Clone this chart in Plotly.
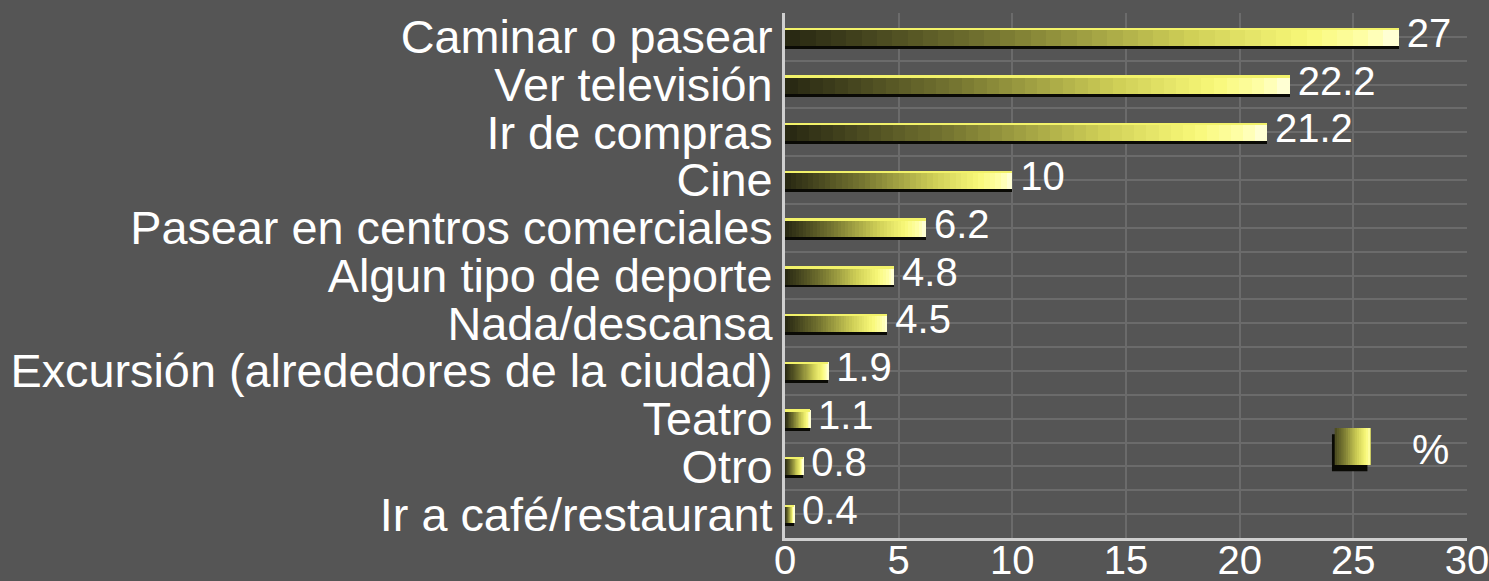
import plotly.graph_objects as go

categories = ["Caminar o pasear", "Ver televisión", "Ir de compras", "Cine",
              "Pasear en centros comerciales", "Algun tipo de deporte",
              "Nada/descansa", "Excursión (alrededores de la ciudad)",
              "Teatro", "Otro", "Ir a café/restaurant"]
values = [27, 22.2, 21.2, 10, 6.2, 4.8, 4.5, 1.9, 1.1, 0.8, 0.4]
value_labels = ["27", "22.2", "21.2", "10", "6.2", "4.8", "4.5", "1.9", "1.1", "0.8", "0.4"]
series_name = "%"
x_ticks = [0, 5, 10, 15, 20, 25, 30]

BG = "#555555"
GRID = "#6b6b6b"
FONT = "Liberation Sans, Arial, sans-serif"

ypos = list(range(len(categories)))

stops = [(0.0, (38, 38, 18)), (0.35, (120, 120, 50)), (0.65, (205, 205, 85)),
         (0.85, (248, 248, 120)), (0.95, (255, 255, 170)), (1.0, (255, 255, 225))]


def grad(t):
    for (t0, c0), (t1, c1) in zip(stops[:-1], stops[1:]):
        if t0 <= t <= t1:
            f = (t - t0) / (t1 - t0) if t1 > t0 else 0
            return "rgb(%d,%d,%d)" % tuple(round(a + (b - a) * f) for a, b in zip(c0, c1))
    return "rgb(%d,%d,%d)" % stops[-1][1]


fig = go.Figure()

BW = 0.38
# shadow
fig.add_trace(go.Bar(orientation="h", y=[p + 0.06 for p in ypos], x=values,
                     width=BW, marker=dict(color="#0a0a05", line=dict(width=0)),
                     showlegend=False, hoverinfo="skip"))
N = 40
for k in range(N):
    fig.add_trace(go.Bar(orientation="h", y=ypos,
                         x=[v * (N - k) / N for v in values],
                         base=[v * k / N for v in values],
                         width=BW, marker=dict(color=grad((k + 0.5) / N), line=dict(width=0)),
                         showlegend=False, hoverinfo="skip"))
# top highlight
fig.add_trace(go.Bar(orientation="h", y=[p - BW / 2 + 0.02 for p in ypos], x=values,
                     width=0.05, marker=dict(color="#f2f26a", line=dict(width=0)),
                     showlegend=False, hoverinfo="skip"))
# value labels
fig.add_trace(go.Scatter(x=values, y=ypos, mode="text",
                         text=["\u2009" + t for t in value_labels],
                         textposition="middle right",
                         textfont=dict(family=FONT, size=40, color="white"),
                         showlegend=False, hoverinfo="skip", cliponaxis=False))

# legend drawn manually
lx0, lx1, ly0, ly1 = 0.806, 0.858, 0.139, 0.2095
shapes = [dict(type="rect", xref="paper", yref="paper", x0=lx0 - 0.004, x1=lx1 - 0.004,
               y0=ly0 - 0.012, y1=ly1 - 0.012, fillcolor="#0a0a05", line=dict(width=0), layer="above")]
M = 16
for k in range(M):
    shapes.append(dict(type="rect", xref="paper", yref="paper",
                       x0=lx0 + (lx1 - lx0) * k / M, x1=lx1,
                       y0=ly0, y1=ly1, fillcolor=grad(0.15 + 0.8 * (k + 0.5) / M),
                       line=dict(width=0), layer="above"))

fig.update_layout(
    width=1489, height=581,
    paper_bgcolor=BG, plot_bgcolor=BG,
    margin=dict(l=785, r=22, t=13, b=43),
    barmode="overlay", bargap=0,
    showlegend=False,
    shapes=shapes,
    annotations=[dict(text=series_name, xref="paper", yref="paper", x=0.946, y=0.168,
                      xanchor="center", yanchor="middle",
                      showarrow=False, font=dict(family=FONT, size=42, color="white"))],
    font=dict(family=FONT, color="white"),
)
fig.update_xaxes(range=[0, 30], tickvals=x_ticks, showgrid=True, gridcolor=GRID, gridwidth=2,
                 showline=True, linecolor="#cfcfcf", linewidth=3, zeroline=False,
                 ticks="", ticklabelstandoff=-15, ticklabeloverflow="allow",
                 tickfont=dict(family=FONT, size=40, color="white"), automargin=False)
fig.update_yaxes(range=[10.5, -0.5], tickvals=ypos, ticktext=categories,
                 showgrid=True, gridcolor=GRID, gridwidth=2,
                 minor=dict(tickvals=[p - 0.5 for p in ypos] + [10.5], showgrid=True,
                            gridcolor=GRID, gridwidth=2, ticks=""),
                 showline=True, linecolor="#cfcfcf", linewidth=3, zeroline=False,
                 ticks="", tickfont=dict(family=FONT, size=46.8, color="white"), automargin=False)

fig.write_html("out.html", config={"displayModeBar": False},
               post_script="document.body.style.margin='0';document.body.style.overflow='hidden';")
